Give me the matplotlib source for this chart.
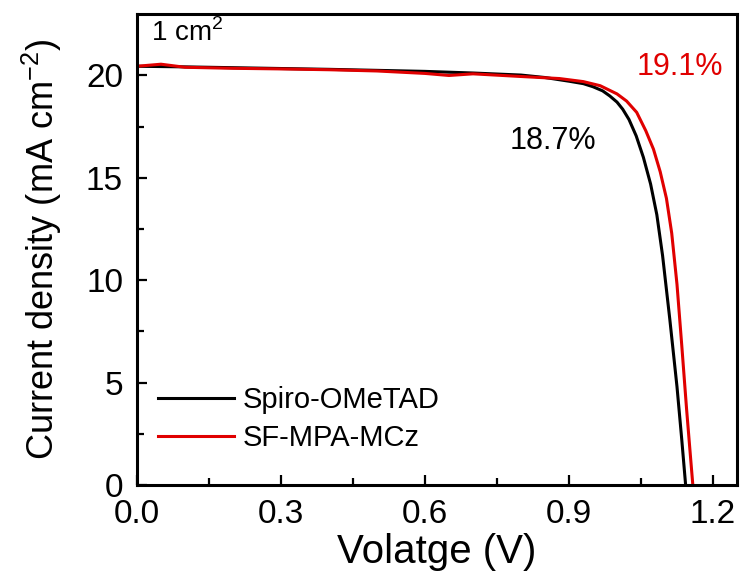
import matplotlib
matplotlib.use("Agg")
import matplotlib.pyplot as plt

plt.rcParams['font.family'] = ['Liberation Sans', 'DejaVu Sans']
plt.rcParams['mathtext.fontset'] = 'custom'
plt.rcParams['mathtext.rm'] = 'Liberation Sans'

# --- J-V data ---
spiro_v = [0.0, 0.1, 0.2, 0.3, 0.4, 0.5, 0.6, 0.7, 0.8, 0.85, 0.9, 0.93, 0.95, 0.97,
           0.985, 1.0, 1.012, 1.025, 1.04, 1.055, 1.07, 1.083, 1.095, 1.11, 1.125, 1.135, 1.143]
spiro_j = [20.45, 20.42, 20.38, 20.34, 20.3, 20.25, 20.2, 20.12, 20.02, 19.9, 19.72, 19.6, 19.45, 19.25,
           19.0, 18.7, 18.35, 17.85, 17.05, 16.0, 14.7, 13.2, 11.2, 8.1, 4.8, 2.2, 0.0]

sf_v = [0.0, 0.05, 0.1, 0.2, 0.3, 0.4, 0.5, 0.6, 0.65, 0.7, 0.8, 0.88, 0.93, 0.965,
        1.0, 1.02, 1.041, 1.06, 1.076, 1.09, 1.103, 1.114, 1.125, 1.135, 1.145, 1.152, 1.158]
sf_j = [20.45, 20.55, 20.4, 20.35, 20.32, 20.28, 20.22, 20.1, 20.0, 20.08, 19.95, 19.85, 19.7, 19.5,
        19.1, 18.75, 18.2, 17.3, 16.4, 15.3, 14.0, 12.3, 9.8, 6.8, 3.7, 1.7, 0.0]

labels = ['Spiro-OMeTAD', 'SF-MPA-MCz']
colors = ['black', '#e00000']
pce = ['18.7%', '19.1%']

fig = plt.figure(figsize=(7.47, 5.85), dpi=100)
ax = fig.add_axes([0.1834, 0.1709, 0.8032, 0.8051])

ax.plot(spiro_v, spiro_j, color=colors[0], lw=2.2, label=labels[0])
ax.plot(sf_v, sf_j, color=colors[1], lw=2.2, label=labels[1])

ax.set_xlim(0, 1.25)
ax.set_ylim(0, 23)
ax.set_xticks([0.0, 0.3, 0.6, 0.9, 1.2])
ax.set_xticks([0.15, 0.45, 0.75, 1.05], minor=True)
ax.set_yticks([0, 5, 10, 15, 20])
ax.set_yticks([2.5, 7.5, 12.5, 17.5], minor=True)
ax.set_xticklabels(['0.0', '0.3', '0.6', '0.9', '1.2'])

ax.tick_params(which='both', direction='in', top=False, right=False,
               labelsize=24, width=1.6)
ax.tick_params(axis='x', pad=10)
ax.tick_params(axis='y', pad=10)
ax.tick_params(which='major', length=7)
ax.tick_params(which='minor', length=5)
for s in ax.spines.values():
    s.set_linewidth(2.2)

ax.set_xlabel('Volatge (V)', fontsize=29, labelpad=2)
ax.set_ylabel('Current density (mA cm$^{-2}$)', fontsize=26, labelpad=16)

ax.text(0.03, 22.1, '1 cm$^2$', fontsize=20, va='center', ha='left')
ax.text(0.867, 16.8, pce[0], fontsize=22, color=colors[0], ha='center', va='center')
ax.text(1.131, 20.4, pce[1], fontsize=22, color=colors[1], ha='center', va='center')

ax.legend(loc='lower left', bbox_to_anchor=(0.035, 0.07), frameon=False,
          fontsize=21, handlelength=2.6, handletextpad=0.3, labelspacing=0.35,
          borderpad=0, borderaxespad=0)

fig.savefig('out.png', dpi=100)
